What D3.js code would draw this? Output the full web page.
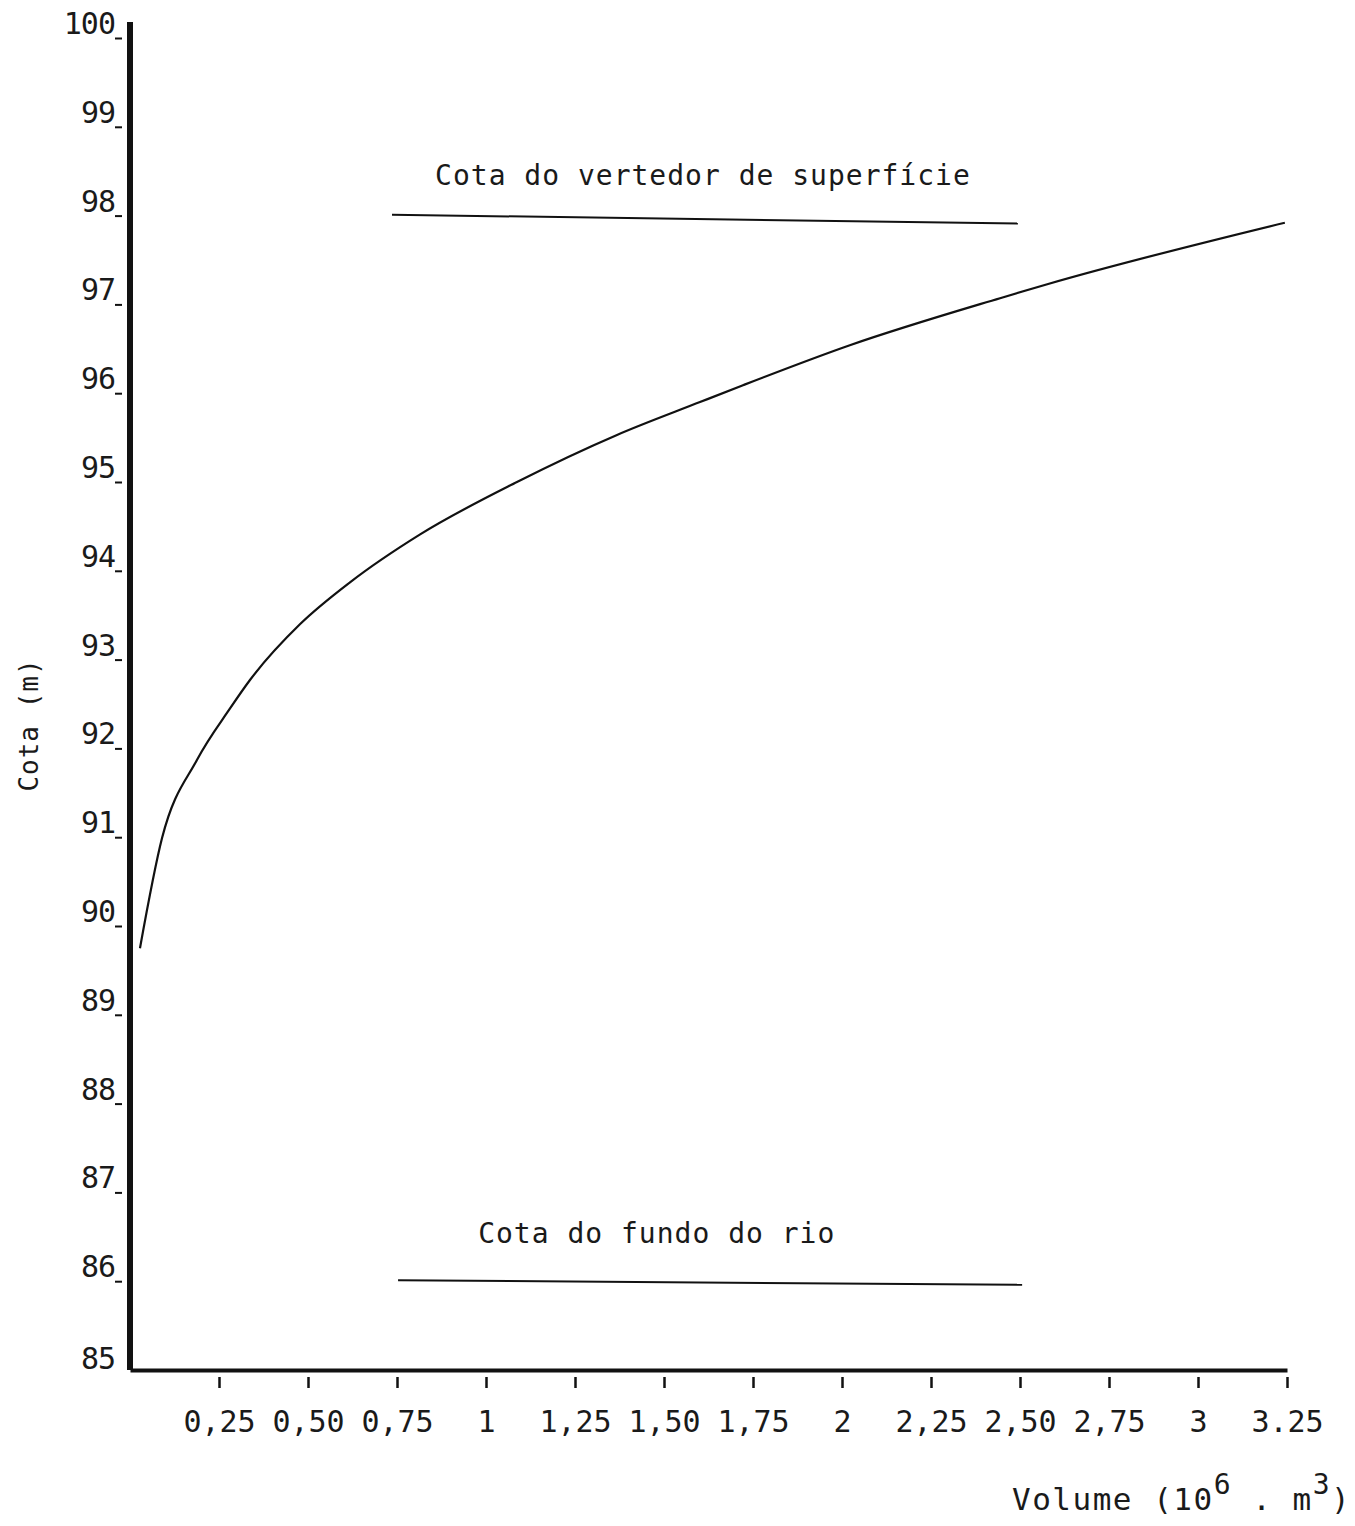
<!DOCTYPE html>
<html>
<head>
<meta charset="utf-8">
<script src="https://cdn.jsdelivr.net/npm/d3@7"></script>
<style>
  body { margin: 0; background: #fff; }
  text { font-family: 'DejaVu Sans Mono', monospace; fill: #1a1a1a; }
</style>
</head>
<body>
<div class="chart-wrapper"></div>
<script>
// volume (10^6 m3) vs cota (m)
const volume = [0.028, 0.09, 0.188, 0.281, 0.337, 0.478, 0.618, 0.815, 1.087, 1.368, 1.601, 1.722, 2.022, 2.444, 2.579, 3.244]
const cota   = [89.75, 90.99, 91.87, 92.45, 92.77, 93.40, 93.87, 94.41, 95.00, 95.53, 95.90, 96.09, 96.54, 97.07, 97.23, 97.92]

const xTicks = [0.25, 0.5, 0.75, 1, 1.25, 1.5, 1.75, 2, 2.25, 2.5, 2.75, 3, 3.25]
const xTickLabels = ['0,25', '0,50', '0,75', '1', '1,25', '1,50', '1,75', '2', '2,25', '2,50', '2,75', '3', '3.25']
const yTicks = [85, 86, 87, 88, 89, 90, 91, 92, 93, 94, 95, 96, 97, 98, 99, 100]

// reference levels: [x0, x1], [y0, y1]
const vertedorX = [0.736, 2.494]
const vertedorY = [98.01, 97.91]
const fundoX = [0.753, 2.506]
const fundoY = [86.01, 85.96]

const vertedorLabel = 'Cota do vertedor de superfície'
const fundoLabel = 'Cota do fundo do rio'

const width = 1355
const height = 1526

const x = d3.scaleLinear().domain([0, 3.25]).range([130, 1287])
const y = d3.scaleLinear().domain([85, 100]).range([1370, 38])

const svg = d3.select('.chart-wrapper')
.append('svg')
.attr('width', width)
.attr('height', height)

// x axis
const xAxis = svg.append('g')
.attr('transform', `translate(0,${y(85)})`)
.call(d3.axisBottom(x).tickValues(xTicks).tickFormat((d, i) => xTickLabels[i]).tickSize(18).tickSizeOuter(0))

xAxis.select('.domain').attr('stroke', '#111').attr('stroke-width', 4)
xAxis.selectAll('.tick line').attr('stroke', '#111').attr('stroke-width', 2.5)
.attr('y1', 7)
xAxis.selectAll('.tick text')
.attr('font-family', 'DejaVu Sans Mono')
.attr('font-size', 30)
.attr('fill', '#1a1a1a')
.attr('dy', 0)
.attr('y', 62)

// y axis
const yAxis = svg.append('g')
.attr('transform', `translate(${x(0)},0)`)
.call(d3.axisLeft(y).tickValues(yTicks).tickFormat(d3.format('d')).tickSize(15).tickSizeOuter(0))

yAxis.select('.domain').attr('stroke', '#111').attr('stroke-width', 6)
.attr('d', `M0,22V${y(85)}`)
yAxis.selectAll('.tick line').attr('stroke', '#111').attr('stroke-width', 2)
.attr('x2', -8).attr('x1', -15)
.attr('display', d => d === 85 ? 'none' : null)
yAxis.selectAll('.tick text')
.attr('font-family', 'DejaVu Sans Mono')
.attr('font-size', 30)
.attr('fill', '#1a1a1a')
.attr('letter-spacing', -1)
.attr('x', -15)
.attr('dy', d => d === 85 ? '-0.05em' : '-0.15em')

// curve
const points = volume.map((v, i) => [v, cota[i]])

svg.append('path')
.datum(points)
.attr('fill', 'none')
.attr('stroke', '#111')
.attr('stroke-width', 2.2)
.attr('d', d3.line().x(d => x(d[0])).y(d => y(d[1])).curve(d3.curveMonotoneX))

// reference lines
const refs = [
  { xs: vertedorX, ys: vertedorY, label: vertedorLabel, lx: 0.857, ly: 98.35 },
  { xs: fundoX, ys: fundoY, label: fundoLabel, lx: 0.978, ly: 86.43 }
]

refs.forEach(r => {
  svg.append('line')
  .attr('x1', x(r.xs[0]))
  .attr('x2', x(r.xs[1]))
  .attr('y1', y(r.ys[0]))
  .attr('y2', y(r.ys[1]))
  .attr('stroke', '#111')
  .attr('stroke-width', 2)

  svg.append('text')
  .attr('x', x(r.lx))
  .attr('y', y(r.ly))
  .attr('font-size', 28)
  .attr('letter-spacing', 1)
  .text(r.label)
})

// axis titles
svg.append('text')
.attr('transform', `translate(38,725) rotate(-90)`)
.attr('text-anchor', 'middle')
.attr('font-size', 26)
.attr('letter-spacing', 1)
.text('Cota (m)')

const xt = svg.append('text')
.attr('x', 1012)
.attr('y', 1510)
.attr('font-size', 31)
.attr('letter-spacing', 1.5)

xt.append('tspan').text('Volume (10')
xt.append('tspan').attr('dy', -16).attr('font-size', 28).text('6')
xt.append('tspan').attr('dy', 16).text(' . m')
xt.append('tspan').attr('dy', -16).attr('font-size', 28).text('3')
xt.append('tspan').attr('dy', 16).text(')')
</script>
</body>
</html>
